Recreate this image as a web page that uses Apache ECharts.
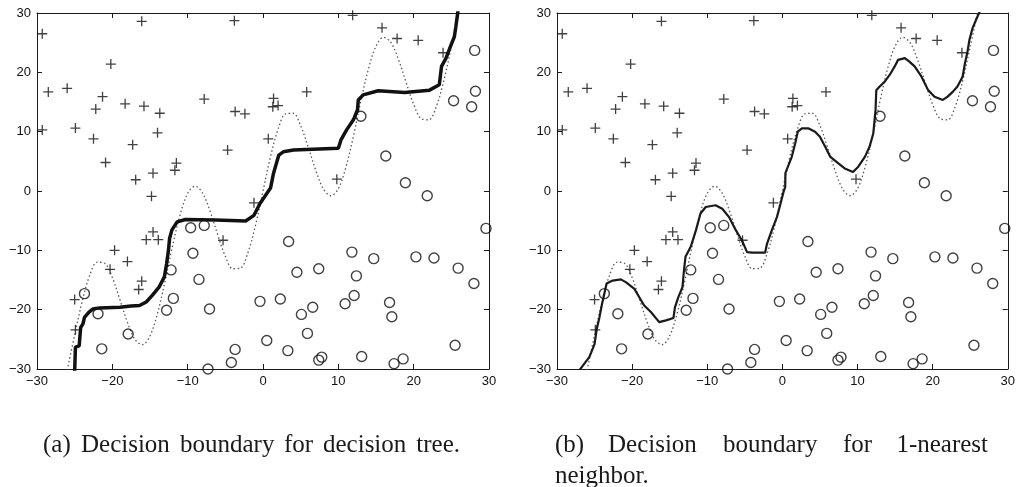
<!DOCTYPE html>
<html>
<head>
<meta charset="utf-8">
<script src="https://cdn.jsdelivr.net/npm/echarts@6/dist/echarts.min.js"></script>
<style>
  html, body { margin: 0; padding: 0; background: #fff; }
  #chart { width: 1018px; height: 487px; }
</style>
</head>
<body>
<div id="chart"></div>
<script>
// Class "+" samples
const plusX = [-29.3, -16.1, -3.8, -20.2, -28.5, -26.0, -21.3, -22.2, -18.3, -15.8, -13.7, -7.8, -3.7, -2.4,
  -29.3, -24.9, -22.5, -14.0, -17.3, -4.7, -20.9, -11.5, -11.7, -14.6, -16.9,
  11.9, 15.8, 17.8, 20.6, 23.9, 1.4, 1.3, 2.0, 5.8, 0.7, 9.8, -1.2,
  -14.8, -14.6, -15.5, -13.9, -19.7, -18.0, -20.3, -16.1, -16.5, -25.0, -24.9, -5.3];
const plusY = [26.5, 28.6, 28.7, 21.4, 16.7, 17.3, 15.9, 13.8, 14.7, 14.3, 13.1, 15.5, 13.4, 13.0,
  10.3, 10.6, 8.8, 9.8, 7.8, 6.9, 4.8, 4.7, 3.5, 3.0, 1.9,
  29.6, 27.5, 25.7, 25.4, 23.3, 15.6, 14.2, 14.4, 16.7, 8.8, 2.0, -2.0,
  -0.9, -6.9, -8.2, -8.2, -10.0, -11.9, -13.2, -15.2, -16.6, -18.3, -23.4, -8.3];

// Class "o" samples
const circleX = [-23.7, -21.9, -21.4, -17.9, -12.8, -11.9, -12.2, -9.6, -7.8, -9.3, -8.5, -7.1, -3.7, -4.2, -7.3,
  18.9, 21.8, 29.6, 3.4, 4.5, 7.4, 11.8, 14.7, 12.4, 20.3, 22.7, 25.9, 28.0,
  -0.4, 2.3, 6.6, 5.1, 12.1, 10.9, 16.8, 17.1, 5.9, 0.5, 3.3, 7.4, 7.8, 13.1, 17.4, 18.6, 25.5,
  28.1, 28.2, 25.3, 27.7, 13.0, 16.3];
const circleY = [-17.3, -20.7, -26.6, -24.1, -20.1, -18.1, -13.3, -6.2, -5.8, -10.5, -14.9, -19.9, -26.7, -28.9, -30.0,
  1.4, -0.8, -6.3, -8.5, -13.7, -13.1, -10.3, -11.4, -14.3, -11.1, -11.3, -13.0, -15.6,
  -18.6, -18.2, -19.6, -20.8, -17.6, -19.0, -18.8, -21.2, -24.0, -25.2, -26.9, -28.5, -28.0, -27.9, -29.1, -28.3, -26.0,
  23.7, 16.8, 15.2, 14.2, 12.6, 5.9];

// True class boundary (dotted curve)
const trueX = [-26, -25, -24, -23, -22, -21, -20, -19, -18, -17, -16, -15, -14, -13, -12, -11, -10, -9, -8, -7, -6, -5, -4, -3, -2, -1,
  0, 1, 2, 3, 4, 5, 6, 7, 8, 9, 10, 11, 12, 13, 14, 15, 16, 17, 18, 19, 20, 21, 22, 23, 24, 25, 26];
const trueY = [-30.2, -24.3, -18.6, -14.2, -12.0, -12.2, -14.6, -18.3, -22.1, -25.0, -25.9, -24.4, -20.6, -15.2, -9.2, -4.0, -0.4, 0.8, -0.4, -3.5, -7.4, -11.0, -13.1, -13.0, -10.4, -5.8,
  0.0, 5.8, 10.4, 13.0, 13.1, 11.0, 7.4, 3.5, 0.4, -0.8, 0.4, 4.0, 9.2, 15.2, 20.6, 24.4, 25.9, 25.0, 22.1, 18.3, 14.6, 12.2, 12.0, 14.2, 18.6, 24.3, 30.2];

// Decision tree boundary
const treeX = [-25.0, -24.9, -24.4, -24.2, -23.9, -23.7, -23.1, -22.6, -21.7, -19.0, -17.5, -16.4, -15.5, -14.7, -13.8, -13.1, -12.8, -12.55, -12.4, -12.1, -11.4, -10.3,
  -6.3, -2.3, -1.2, -0.4, 1.0, 1.4, 2.1, 2.7, 4.05, 10.0, 10.35, 11.1, 12.0, 12.55, 12.65, 13.3, 15.3, 18.8, 22.1, 23.4, 23.7, 24.3, 24.9, 25.4, 25.6, 25.9];
const treeY = [-30.5, -26.3, -26.1, -23.0, -22.4, -21.3, -20.4, -19.9, -19.7, -19.6, -19.4, -19.3, -18.7, -17.6, -16.2, -14.5, -12.3, -10.0, -8.0, -6.6, -5.2, -4.8,
  -4.9, -5.05, -4.1, -2.1, 0.5, 3.0, 6.05, 6.6, 6.9, 7.2, 8.6, 10.3, 12.0, 13.7, 15.35, 16.2, 16.9, 16.6, 17.0, 17.9, 21.0, 22.4, 24.4, 26.0, 27.7, 30.5];

// 1-nearest-neighbor boundary
const nnX = [-27.2, -25.7, -25.0, -24.7, -24.35, -24.0, -23.7, -23.4, -22.6, -21.5, -20.8, -19.7, -19.05, -18.4, -17.5, -16.4, -15.5, -14.5, -14.3, -13.85, -13.3, -13.1,
  -12.9, -12.2, -11.5, -10.9, -10.2, -8.9, -8.0, -7.1, -6.2, -5.4, -4.7, -4.0, -2.3, -2.05, -1.4, -0.73, -0.3, 0.15, 0.38, 0.4, 1.26, 1.7, 2.05, 2.6,
  3.5, 4.35, 5.0, 5.7, 6.35, 7.45, 8.3, 9.4, 10.1, 11.0, 11.6, 12.1, 12.4, 12.5, 12.95, 13.6, 14.3, 14.95, 15.4, 16.3, 16.9, 17.6, 18.5, 19.4,
  20.25, 21.35, 22.0, 22.7, 23.3, 24.0, 24.3, 24.6, 24.9, 25.3, 25.8, 26.35];
const nnY = [-30.5, -28.0, -25.8, -23.2, -21.3, -19.0, -17.3, -15.6, -15.1, -14.9, -15.4, -16.5, -17.9, -19.3, -20.4, -22.1, -21.8, -21.4, -19.6, -17.9, -16.2, -13.4,
  -11.1, -9.4, -6.6, -3.8, -2.7, -2.4, -3.0, -4.4, -6.6, -8.3, -10.3, -10.4, -10.4, -8.9, -6.6, -4.4, -2.4, -0.15, 0.7, 3.0, 5.8, 8.0, 10.0, 10.55,
  10.55, 10.0, 9.15, 7.45, 5.8, 4.65, 3.8, 3.2, 4.1, 5.8, 7.45, 9.7, 13.65, 17.0, 17.6, 18.4, 19.6, 21.0, 22.1, 22.4, 21.8, 21.0, 19.3, 17.0,
  15.9, 15.35, 15.9, 16.75, 17.6, 19.3, 21.55, 23.2, 25.5, 27.4, 28.9, 30.5];

// Axis ticks
const tickValues = [-30, -20, -10, 0, 10, 20, 30];
const tickLabels = ['\u221230', '\u221220', '\u221210', '0', '10', '20', '30'];

const zip = (xs, ys) => xs.map((x, i) => [x, ys[i]]);

const AXIS_COLOR = '#1a1a1a';
const labelFont = { fontFamily: 'Liberation Sans, Arial, sans-serif', fontSize: 13, color: '#111' };
const fmt = v => { const i = tickValues.indexOf(v); return i >= 0 ? tickLabels[i] : ''; };

function axis(gridIndex, position, showLabel) {
  return {
    type: 'value', gridIndex, position,
    min: -30, max: 30, interval: 10,
    axisLine: { show: true, onZero: false, lineStyle: { color: AXIS_COLOR, width: 1 } },
    axisTick: { show: true, inside: true, length: 5, lineStyle: { color: AXIS_COLOR, width: 1 } },
    axisLabel: Object.assign({ show: showLabel, margin: 6, formatter: fmt }, labelFont),
    splitLine: { show: false }
  };
}

const plusSymbol = 'path://M4.35,0H5.65V4.35H10V5.65H5.65V10H4.35V5.65H0V4.35H4.35Z';

function panelSeries(p, boundary, boundaryStyle) {
  const xi = p * 2, yi = p * 2;
  return [
    { type: 'line', xAxisIndex: xi, yAxisIndex: yi, data: zip(trueX, trueY), smooth: 0.35,
      showSymbol: false, z: 2, silent: true,
      lineStyle: { color: '#5a5a5a', width: 1.3, type: [1.5, 2.5] } },
    { type: 'line', xAxisIndex: xi, yAxisIndex: yi, data: boundary, showSymbol: false, z: 3, silent: true,
      lineStyle: boundaryStyle },
    { type: 'scatter', xAxisIndex: xi, yAxisIndex: yi, data: zip(plusX, plusY), clip: false, z: 4,
      symbol: plusSymbol, symbolSize: 10, itemStyle: { color: '#111' } },
    { type: 'scatter', xAxisIndex: xi, yAxisIndex: yi, data: zip(circleX, circleY), clip: false, z: 4,
      symbol: 'circle', symbolSize: 10,
      itemStyle: { color: 'rgba(0,0,0,0)', borderColor: '#111', borderWidth: 1.4 } }
  ];
}

const captionFont = { fontFamily: 'Liberation Serif, Times New Roman, serif', fontSize: 25, fill: '#1a1a1a', verticalAlign: 'middle' };
const capText = (x, y, text, align) => ({ type: 'text', x, y, silent: true,
  style: Object.assign({ text, align: align || 'left' }, captionFont) });

const chart = echarts.init(document.getElementById('chart'), null, { renderer: 'canvas' });
chart.setOption({
  animation: false,
  backgroundColor: '#fff',
  grid: [
    { left: 37, top: 13, width: 452, height: 356 },
    { left: 557, top: 13, width: 452, height: 356 }
  ],
  xAxis: [axis(0, 'bottom', true), axis(0, 'top', false), axis(1, 'bottom', true), axis(1, 'top', false)],
  yAxis: [axis(0, 'left', true), axis(0, 'right', false), axis(1, 'left', true), axis(1, 'right', false)],
  series: [
    ...panelSeries(0, zip(treeX, treeY), { color: '#111', width: 3.5 }),
    ...panelSeries(1, zip(nnX, nnY), { color: '#1a1a1a', width: 2.2 })
  ],
  graphic: [
    // caption (a), evenly spaced words
    capText(43, 445, '(a)'),
    capText(81, 445, 'Decision'),
    capText(180, 445, 'boundary'),
    capText(284, 445, 'for'),
    capText(323, 445, 'decision'),
    capText(460, 445, 'tree.', 'right'),
    // caption (b), justified first line
    capText(555, 445, '(b)'),
    capText(608, 445, 'Decision'),
    capText(723, 445, 'boundary'),
    capText(843, 445, 'for'),
    capText(988, 445, '1-nearest', 'right'),
    capText(555, 476, 'neighbor.')
  ]
});
</script>
</body>
</html>
